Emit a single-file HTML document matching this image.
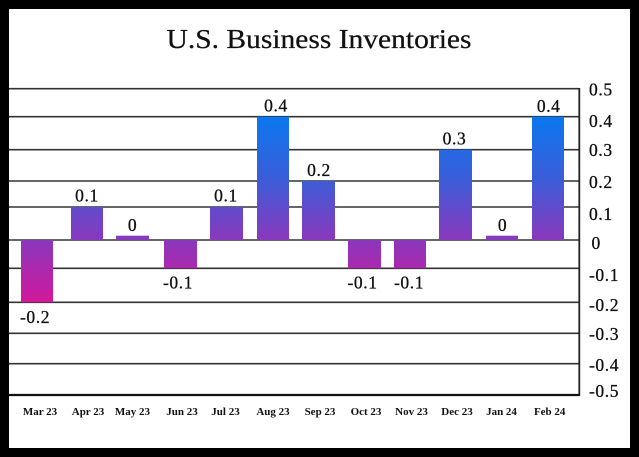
<!DOCTYPE html>
<html>
<head>
<meta charset="utf-8">
<style>
html,body{margin:0;padding:0;background:#000;}
body{width:639px;height:457px;overflow:hidden;}
svg{display:block;}
text{font-family:"Liberation Serif",serif;fill:#111;}
</style>
</head>
<body>
<svg width="639" height="457" viewBox="0 0 639 457" xmlns="http://www.w3.org/2000/svg">
<defs>
<linearGradient id="g" gradientUnits="userSpaceOnUse" x1="0" y1="116" x2="0" y2="302">
<stop offset="0" stop-color="#0a78f0"/>
<stop offset="0.35" stop-color="#3d5cd8"/>
<stop offset="0.667" stop-color="#8a38bc"/>
<stop offset="1" stop-color="#d1189c"/>
</linearGradient>
</defs>
<rect x="0" y="0" width="639" height="457" fill="#000"/>
<rect x="9" y="9" width="621" height="439" fill="#fff"/>

<text x="319" y="48" font-size="27" text-anchor="middle" textLength="305" lengthAdjust="spacingAndGlyphs" stroke="#111" stroke-width="0.25">U.S. Business Inventories</text>

<g stroke="#333" stroke-width="1.6">
<line x1="9" y1="88.7" x2="579" y2="88.7"/>
<line x1="9" y1="116.7" x2="579" y2="116.7"/>
<line x1="9" y1="149.7" x2="579" y2="149.7"/>
<line x1="9" y1="181" x2="579" y2="181"/>
<line x1="9" y1="207" x2="579" y2="207"/>
<line x1="9" y1="240" x2="579" y2="240"/>
<line x1="9" y1="268.3" x2="579" y2="268.3"/>
<line x1="9" y1="302.3" x2="579" y2="302.3"/>
<line x1="9" y1="333.3" x2="579" y2="333.3"/>
<line x1="9" y1="363.7" x2="579" y2="363.7"/>
</g>
<line x1="9" y1="395" x2="580" y2="395" stroke="#111" stroke-width="2.2"/>
<line x1="579.3" y1="88" x2="579.3" y2="396" stroke="#222" stroke-width="1.8"/>

<g fill="url(#g)">
<rect x="21" y="240" width="32" height="62.3"/>
<rect x="71" y="207" width="32" height="33"/>
<rect x="116" y="235.7" width="33" height="4.3"/>
<rect x="164" y="240" width="33" height="28.3"/>
<rect x="210" y="207" width="33" height="33"/>
<rect x="257" y="116.7" width="32" height="123.3"/>
<rect x="302" y="181" width="33" height="59"/>
<rect x="348" y="240" width="33" height="28.3"/>
<rect x="394" y="240" width="32" height="28.3"/>
<rect x="439" y="149.7" width="33" height="90.3"/>
<rect x="486" y="235.7" width="32" height="4.3"/>
<rect x="532" y="116.7" width="32" height="123.3"/>
</g>

<g font-size="17.5" text-anchor="middle" letter-spacing="0.6" stroke="#111" stroke-width="0.3">
<text x="35" y="323">-0.2</text>
<text x="87" y="201.7">0.1</text>
<text x="132.5" y="231">0</text>
<text x="178" y="288.3">-0.1</text>
<text x="226" y="201.7">0.1</text>
<text x="276" y="111.7">0.4</text>
<text x="319" y="176">0.2</text>
<text x="362.5" y="288.3">-0.1</text>
<text x="409" y="288.3">-0.1</text>
<text x="454.5" y="144.5">0.3</text>
<text x="502.5" y="231">0</text>
<text x="548.7" y="112">0.4</text>
</g>

<g font-size="17.5" letter-spacing="0.6" stroke="#111" stroke-width="0.3">
<text x="589" y="95.5">0.5</text>
<text x="589" y="127">0.4</text>
<text x="589" y="156">0.3</text>
<text x="589" y="188">0.2</text>
<text x="589" y="220">0.1</text>
<text x="591.5" y="249">0</text>
<text x="589" y="281">-0.1</text>
<text x="589" y="311">-0.2</text>
<text x="589" y="340">-0.3</text>
<text x="589" y="371">-0.4</text>
<text x="589" y="397">-0.5</text>
</g>

<g font-size="11" font-weight="bold" text-anchor="middle" fill="#222">
<text x="40" y="415">Mar 23</text>
<text x="88" y="415">Apr 23</text>
<text x="132.5" y="415">May 23</text>
<text x="182" y="415">Jun 23</text>
<text x="225.5" y="415">Jul 23</text>
<text x="273" y="415">Aug 23</text>
<text x="320" y="415">Sep 23</text>
<text x="366" y="415">Oct 23</text>
<text x="411.5" y="415">Nov 23</text>
<text x="457" y="415">Dec 23</text>
<text x="501.5" y="415">Jan 24</text>
<text x="549.7" y="415">Feb 24</text>
</g>
</svg>
</body>
</html>
